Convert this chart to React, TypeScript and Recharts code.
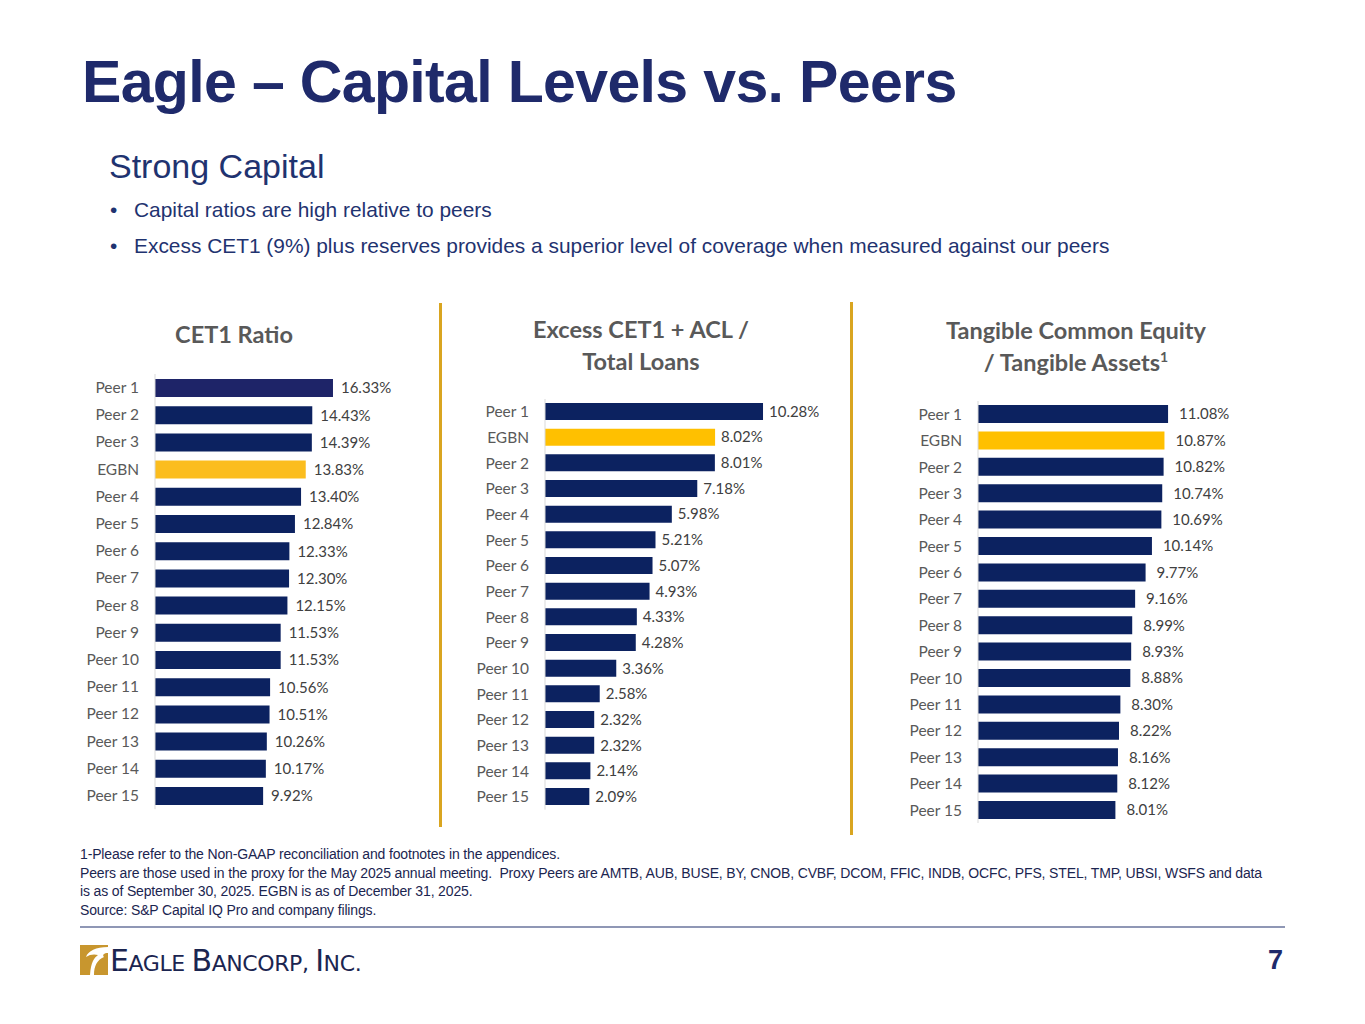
import React from 'react';
import { BarChart, Bar, XAxis, YAxis, Cell, LabelList } from 'recharts';

// ---- data ----
const cet1Labels = ['Peer 1', 'Peer 2', 'Peer 3', 'EGBN', 'Peer 4', 'Peer 5', 'Peer 6', 'Peer 7', 'Peer 8', 'Peer 9', 'Peer 10', 'Peer 11', 'Peer 12', 'Peer 13', 'Peer 14', 'Peer 15'];
const cet1Values = [16.33, 14.43, 14.39, 13.83, 13.4, 12.84, 12.33, 12.3, 12.15, 11.53, 11.53, 10.56, 10.51, 10.26, 10.17, 9.92];

const excessLabels = ['Peer 1', 'EGBN', 'Peer 2', 'Peer 3', 'Peer 4', 'Peer 5', 'Peer 6', 'Peer 7', 'Peer 8', 'Peer 9', 'Peer 10', 'Peer 11', 'Peer 12', 'Peer 13', 'Peer 14', 'Peer 15'];
const excessValues = [10.28, 8.02, 8.01, 7.18, 5.98, 5.21, 5.07, 4.93, 4.33, 4.28, 3.36, 2.58, 2.32, 2.32, 2.14, 2.09];

const tceLabels = ['Peer 1', 'EGBN', 'Peer 2', 'Peer 3', 'Peer 4', 'Peer 5', 'Peer 6', 'Peer 7', 'Peer 8', 'Peer 9', 'Peer 10', 'Peer 11', 'Peer 12', 'Peer 13', 'Peer 14', 'Peer 15'];
const tceValues = [11.08, 10.87, 10.82, 10.74, 10.69, 10.14, 9.77, 9.16, 8.99, 8.93, 8.88, 8.3, 8.22, 8.16, 8.12, 8.01];

const NAVY = '#0c2260';
const GOLD = '#ffc000';
const AXIS_TEXT = '#595959';
const CHART_FONT = 'Lato, "Noto Sans", sans-serif';
const SLIDE_FONT = '"Liberation Sans", Arial, sans-serif';

type PanelProps = {
  labels: string[];
  values: number[];
  left: number;
  top: number;
  axisWidth: number;
  plotWidth: number;
  plotHeight: number;
  max: number;
  barSize: number;
  labelOffset: number;
  colorFor: (name: string, i: number) => string;
};

const Panel: React.FC<PanelProps> = ({ labels, values, left, top, axisWidth, plotWidth, plotHeight, max, barSize, labelOffset, colorFor }) => {
  const data = labels.map((name, i) => ({ name, value: values[i] }));
  const width = axisWidth + plotWidth + 70;
  return (
    <div style={{ position: 'absolute', left, top }}>
      <BarChart
        width={width}
        height={plotHeight}
        data={data}
        layout="vertical"
        margin={{ top: 0, right: 70, bottom: 0, left: 0 }}
      >
        <XAxis type="number" domain={[0, max]} hide />
        <YAxis
          type="category"
          dataKey="name"
          width={axisWidth}
          axisLine={{ stroke: '#d9d9d9' }}
          tickLine={false}
          tickMargin={10}
          interval={0}
          tick={{ fill: AXIS_TEXT, fontSize: 15.5, fontFamily: CHART_FONT }}
        />
        <Bar dataKey="value" barSize={barSize} isAnimationActive={false}>
          {data.map((d, i) => (
            <Cell key={d.name} fill={colorFor(d.name, i)} />
          ))}
          <LabelList
            dataKey="value"
            position="right"
            offset={labelOffset}
            formatter={(v: number) => `${v.toFixed(2)}%`}
            style={{ fill: '#404040', fontSize: 15, fontFamily: CHART_FONT }}
          />
        </Bar>
      </BarChart>
    </div>
  );
};

const chartTitle: React.CSSProperties = {
  position: 'absolute',
  fontFamily: CHART_FONT,
  fontWeight: 700,
  fontSize: 23.5,
  color: AXIS_TEXT,
  textAlign: 'center',
  lineHeight: '32px',
};

const App: React.FC = () => {
  return (
    <div style={{ position: 'relative', width: 1365, height: 1024, background: '#fff', overflow: 'hidden', fontFamily: SLIDE_FONT }}>
      <style>{'body{margin:0}'}</style>

      <div style={{ position: 'absolute', left: 82, top: 48, fontSize: 59, fontWeight: 700, color: '#1f2a6b', letterSpacing: -0.65, whiteSpace: 'nowrap' }}>
        Eagle – Capital Levels vs. Peers
      </div>

      <div style={{ position: 'absolute', left: 109, top: 147, fontSize: 34, color: '#1f3370', whiteSpace: 'nowrap' }}>
        Strong Capital
      </div>
      <div style={{ position: 'absolute', left: 110, top: 198, fontSize: 20.9, color: '#1f3370', whiteSpace: 'nowrap' }}>
        <span style={{ display: 'inline-block', width: 24 }}>•</span>Capital ratios are high relative to peers
      </div>
      <div style={{ position: 'absolute', left: 110, top: 234, fontSize: 20.9, color: '#1f3370', whiteSpace: 'nowrap' }}>
        <span style={{ display: 'inline-block', width: 24 }}>•</span>Excess CET1 (9%) plus reserves provides a superior level of coverage when measured against our peers
      </div>

      {/* separators */}
      <div style={{ position: 'absolute', left: 439, top: 303, width: 3, height: 524, background: '#d9a520' }} />
      <div style={{ position: 'absolute', left: 850, top: 302, width: 3, height: 533, background: '#d9a520' }} />

      {/* chart titles */}
      <div style={{ ...chartTitle, left: 134, top: 318, width: 200 }}>CET1 Ratio</div>
      <div style={{ ...chartTitle, left: 491, top: 313, width: 300 }}>
        Excess CET1 + ACL /<br />Total Loans
      </div>
      <div style={{ ...chartTitle, left: 926, top: 314, width: 300 }}>
        Tangible Common Equity<br />/ Tangible Assets<sup style={{ fontSize: 14, lineHeight: 0, verticalAlign: 9 }}>1</sup>
      </div>

      <Panel
        labels={cet1Labels}
        values={cet1Values}
        left={70}
        top={374.4}
        axisWidth={85}
        plotWidth={196.2}
        plotHeight={435.2}
        max={18}
        barSize={18}
        labelOffset={8}
        colorFor={(n, i) => (n === 'EGBN' ? '#fbbd1e' : i === 0 ? '#1e2468' : NAVY)}
      />
      <Panel
        labels={excessLabels}
        values={excessValues}
        left={460}
        top={399.2}
        axisWidth={85}
        plotWidth={254.5}
        plotHeight={410.7}
        max={12}
        barSize={17}
        labelOffset={6}
        colorFor={(n) => (n === 'EGBN' ? GOLD : NAVY)}
      />
      <Panel
        labels={tceLabels}
        values={tceValues}
        left={890}
        top={400.8}
        axisWidth={88}
        plotWidth={223}
        plotHeight={422.4}
        max={13}
        barSize={18}
        labelOffset={11}
        colorFor={(n) => (n === 'EGBN' ? GOLD : NAVY)}
      />

      {/* footnotes */}
      <div style={{ position: 'absolute', left: 80, top: 845, fontSize: 14, lineHeight: '18.7px', color: '#1b2550', letterSpacing: -0.15, whiteSpace: 'nowrap' }}>
        1-Please refer to the Non-GAAP reconciliation and footnotes in the appendices.<br />
        Peers are those used in the proxy for the May 2025 annual meeting.&nbsp; Proxy Peers are AMTB, AUB, BUSE, BY, CNOB, CVBF, DCOM, FFIC, INDB, OCFC, PFS, STEL, TMP, UBSI, WSFS and data<br />
        is as of September 30, 2025. EGBN is as of December 31, 2025.<br />
        Source: S&amp;P Capital IQ Pro and company filings.
      </div>
      <div style={{ position: 'absolute', left: 80, top: 926, width: 1205, height: 2, background: '#8f97b5' }} />

      {/* logo */}
      <svg style={{ position: 'absolute', left: 80, top: 945 }} width={28} height={30} viewBox="0 0 28 30">
        <rect x={0} y={0} width={28} height={30} fill="#c8962e" />
        <path d="M28 2 C16 2 8 6 6 12 C10 9 15 9 18 10 C14 13 11 17 10 30 L14 30 C14 21 17 15 24 12 C22 10 24 8 28 8 Z" fill="#fff" />
      </svg>
      <div style={{ position: 'absolute', left: 110, top: 943, color: '#1b2550', fontFamily: '"DejaVu Sans", sans-serif', whiteSpace: 'nowrap', letterSpacing: -0.4 }}>
        <span style={{ fontSize: 30 }}>E</span><span style={{ fontSize: 22 }}>AGLE </span>
        <span style={{ fontSize: 30 }}>B</span><span style={{ fontSize: 22 }}>ANCORP, </span>
        <span style={{ fontSize: 30 }}>I</span><span style={{ fontSize: 22 }}>NC.</span>
      </div>
      <div style={{ position: 'absolute', left: 1268, top: 945, fontSize: 27, fontWeight: 700, color: '#1f2a6b' }}>7</div>
    </div>
  );
};

export default App;
